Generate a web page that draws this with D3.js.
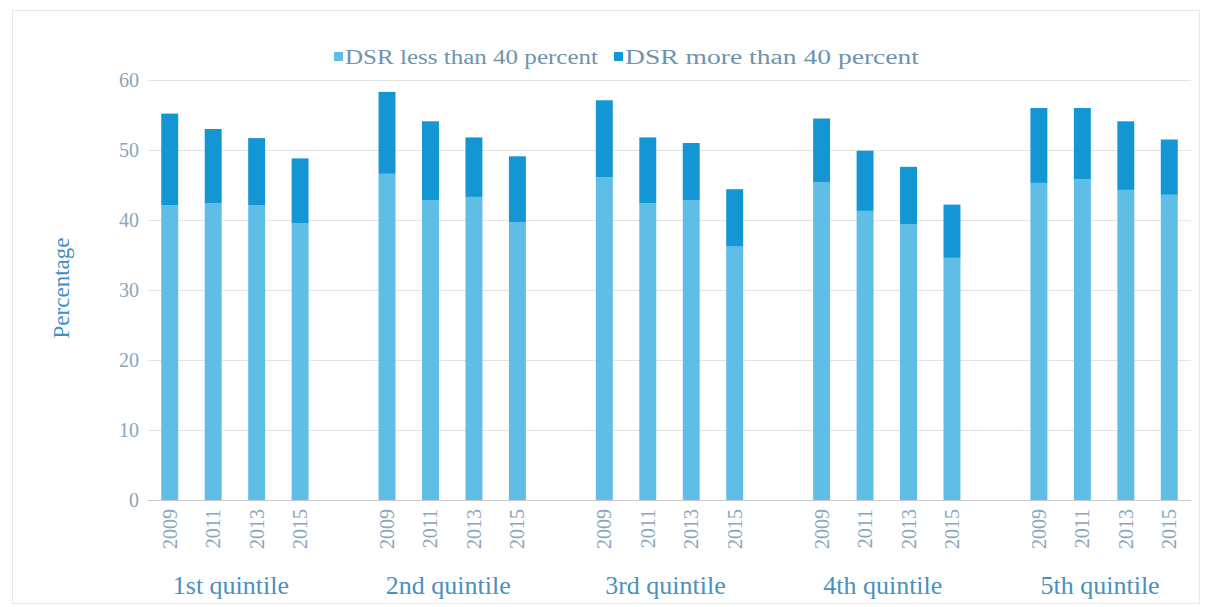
<!DOCTYPE html>
<html>
<head>
<meta charset="utf-8">
<script src="https://cdn.jsdelivr.net/npm/d3@7"></script>
<style>
  body { margin: 0; background: #fff; }
  svg { display: block; font-family: "Liberation Serif", "Times New Roman", serif; }
</style>
</head>
<body>
<svg width="1209" height="607"></svg>
<script>
// data
var groups = ["1st quintile", "2nd quintile", "3rd quintile", "4th quintile", "5th quintile"];
var years = ["2009", "2011", "2013", "2015"];
var series = ["DSR less than 40 percent", "DSR more than 40 percent"];

// share below 40% DSR, per group, per year
var lessThan40 = [
    [42.1, 42.4, 42.1, 39.5],
    [46.6, 42.8, 43.3, 39.7],
    [46.1, 42.4, 42.8, 36.2],
    [45.4, 41.3, 39.4, 34.6],
    [45.3, 45.8, 44.3, 43.6]
];
// total bar heights (less + more)
var totals = [
    [55.2, 53.0, 51.7, 48.8],
    [58.3, 54.1, 51.8, 49.1],
    [57.1, 51.8, 51.0, 44.4],
    [54.5, 49.9, 47.6, 42.2],
    [56.0, 56.0, 54.1, 51.5]
];
var yTicks = [0, 10, 20, 30, 40, 50, 60];

var colors = ["#5fbde6", "#1596d4"];

var svg = d3.select("svg"),
    width = +svg.attr("width"),
    height = +svg.attr("height");

var margin = {top: 80, right: 18, bottom: 107, left: 148};

// outer chart frame
svg.append("rect")
    .attr("x", 12.5).attr("y", 10.5)
    .attr("width", width - 22).attr("height", height - 14)
    .attr("fill", "none")
    .attr("stroke", "#e4e8ec");

// flat list of slots, with an empty slot between groups
var slots = [];
var rows = [];
groups.forEach(function(g, gi){
    years.forEach(function(yr, yi){
        var key = g + "|" + yr;
        slots.push(key);
        rows.push({key: key, group: g, year: yr, less: lessThan40[gi][yi], more: totals[gi][yi] - lessThan40[gi][yi]});
    });
    if (gi < groups.length - 1) slots.push("gap" + gi);
});

var x = d3.scaleBand()
    .domain(slots)
    .range([margin.left, width - margin.right])
    .paddingInner(0.61)
    .paddingOuter(0.305);

var y = d3.scaleLinear()
    .domain([0, 60])
    .range([height - margin.bottom, margin.top]);

// gridlines
svg.append("g")
    .selectAll("line")
    .data(yTicks.filter(function(d){ return d > 0; }))
    .enter().append("line")
    .attr("x1", margin.left)
    .attr("x2", width - margin.right)
    .attr("y1", function(d){ return Math.round(y(d)) + 0.5; })
    .attr("y2", function(d){ return Math.round(y(d)) + 0.5; })
    .attr("stroke", "#e3e3e3")
    .attr("stroke-width", 1.2);

// y tick labels
svg.append("g")
    .selectAll("text")
    .data(yTicks)
    .enter().append("text")
    .attr("x", 139)
    .attr("y", function(d){ return y(d); })
    .attr("dy", "0.35em")
    .attr("text-anchor", "end")
    .attr("fill", "#8aa6bc")
    .style("font-size", "20px")
    .text(function(d){ return d; });

// stacked bars
var stack = d3.stack().keys(["less", "more"]);
var layers = stack(rows);

svg.append("g")
    .selectAll("g")
    .data(layers)
    .enter().append("g")
    .attr("fill", function(d, i){ return colors[i]; })
    .selectAll("rect")
    .data(function(d){ return d; })
    .enter().append("rect")
    .attr("x", function(d){ return x(d.data.key); })
    .attr("width", x.bandwidth())
    .attr("y", function(d){ return y(d[1]); })
    .attr("height", function(d){ return y(d[0]) - y(d[1]); });

// baseline
svg.append("line")
    .attr("x1", margin.left)
    .attr("x2", width - margin.right)
    .attr("y1", y(0) + 0.5)
    .attr("y2", y(0) + 0.5)
    .attr("stroke", "#c9c9c9")
    .attr("stroke-width", 1.2);

// year labels, rotated
svg.append("g")
    .selectAll("text")
    .data(rows)
    .enter().append("text")
    .attr("transform", function(d){
        return "translate(" + (x(d.key) + x.bandwidth() / 2) + "," + (y(0) + 9) + ") rotate(-90)";
    })
    .attr("text-anchor", "end")
    .attr("dy", "0.35em")
    .attr("fill", "#8aa6bc")
    .style("font-size", "20px")
    .text(function(d){ return d.year; });

// group labels
svg.append("g")
    .selectAll("text")
    .data(groups)
    .enter().append("text")
    .attr("x", function(g){
        var first = x(g + "|" + years[0]), last = x(g + "|" + years[years.length - 1]) + x.bandwidth();
        return (first + last) / 2 - 4;
    })
    .attr("y", 594)
    .attr("text-anchor", "middle")
    .attr("fill", "#4b8fc0")
    .style("font-size", "26px")
    .text(function(g){ return g; });

// y axis title
svg.append("text")
    .attr("transform", "translate(69," + 288 + ") rotate(-90)")
    .attr("text-anchor", "middle")
    .attr("fill", "#3f8ec6")
    .style("font-size", "23px")
    .text("Percentage");

// legend
var legendX = [334, 614];
var legendLen = [253, 294];
var legend = svg.append("g")
    .selectAll("g")
    .data(series)
    .enter().append("g")
    .attr("transform", function(d, i){ return "translate(" + legendX[i] + ",57)"; });

legend.append("rect")
    .attr("x", 0).attr("y", -5)
    .attr("width", 9).attr("height", 9)
    .attr("fill", function(d, i){ return colors[i]; });

legend.append("text")
    .attr("x", 11)
    .attr("dy", "0.35em")
    .attr("fill", "#6f93ad")
    .style("font-size", "20px")
    .attr("textLength", function(d, i){ return legendLen[i]; })
    .attr("lengthAdjust", "spacingAndGlyphs")
    .text(function(d){ return d; });
</script>
</body>
</html>
